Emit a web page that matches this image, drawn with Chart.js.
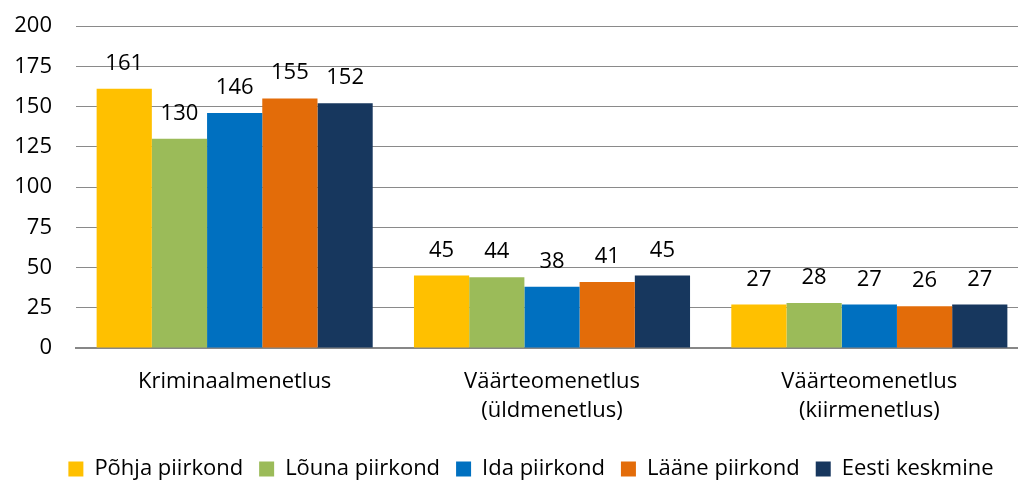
<!DOCTYPE html>
<html>
<head>
<meta charset="utf-8">
<script src="https://cdn.jsdelivr.net/npm/chart.js@4"></script>
<style>
  html, body { margin: 0; padding: 0; background: #fff; overflow: hidden; }
  #wrap { position: absolute; left: 0; top: 0; width: 1028px; height: 480px; }
</style>
</head>
<body>
<div id="wrap"><canvas id="c"></canvas></div>
<script>
const categories = [
  "Kriminaalmenetlus",
  ["Väärteomenetlus", "(üldmenetlus)"],
  ["Väärteomenetlus", "(kiirmenetlus)"]
];
const seriesNames = ["Põhja piirkond", "Lõuna piirkond", "Ida piirkond", "Lääne piirkond", "Eesti keskmine"];
const pohja = [161, 45, 27];
const louna = [130, 44, 28];
const ida = [146, 38, 27];
const laane = [155, 41, 26];
const eesti = [152, 45, 27];
const seriesColors = ["#FFC000", "#9BBB59", "#0070C0", "#E36C09", "#17375E"];
const yTicks = [0, 25, 50, 75, 100, 125, 150, 175, 200];

const seriesValues = [pohja, louna, ida, laane, eesti];
const FONT = '"Open Sans"';
const FS = 22;

const valueLabels = {
  id: 'valueLabels',
  afterDatasetsDraw(chart) {
    const ctx = chart.ctx;
    ctx.save();
    ctx.font = FS + 'px ' + FONT;
    ctx.fillStyle = '#000';
    ctx.textAlign = 'center';
    ctx.textBaseline = 'alphabetic';
    chart.data.datasets.forEach((ds, i) => {
      chart.getDatasetMeta(i).data.forEach((bar, j) => {
        ctx.fillText(String(ds.data[j]), bar.x, bar.y - 19);
      });
    });
    ctx.restore();
  }
};

const legendShift = {
  id: 'legendShift',
  afterLayout(chart) {
    if (chart.legend) {
      chart.legend.left += 17;
      chart.legend.right += 17;
    }
  }
};

Chart.defaults.font.family = FONT;
Chart.defaults.font.size = FS;
Chart.defaults.color = '#000';

new Chart(document.getElementById('c'), {
  type: 'bar',
  data: {
    labels: categories,
    datasets: seriesNames.map((name, i) => ({
      label: name,
      data: seriesValues[i],
      backgroundColor: seriesColors[i],
      borderWidth: 0,
      categoryPercentage: 0.87,
      barPercentage: 1.0
    }))
  },
  options: {
    responsive: true,
    maintainAspectRatio: false,
    animation: false,
    layout: { padding: { left: 0, right: 0, top: 26, bottom: -10 } },
    scales: {
      x: {
        grid: { display: false, drawTicks: false },
        border: { display: true, color: '#878787', width: 2 },
        ticks: { padding: 19, maxRotation: 0, autoSkip: false, font: { size: FS, lineHeight: 1.32 }, color: '#000' },
        afterFit: s => { s.height = 94; }
      },
      y: {
        min: 0,
        max: 200,
        afterBuildTicks: s => { s.ticks = yTicks.map(v => ({ value: v })); },
        grid: { color: '#8a8a8a', lineWidth: 1, drawTicks: false },
        border: { display: false },
        ticks: { padding: 24, font: { size: FS }, color: '#000' },
        afterFit: s => { s.width = 76; s.paddingTop = 0; s.paddingBottom = 0; }
      }
    },
    plugins: {
      legend: {
        position: 'bottom',
        labels: { boxWidth: 15, boxHeight: 15, padding: 16, color: '#000', font: { size: FS } }
      },
      tooltip: { enabled: false }
    }
  },
  plugins: [valueLabels, legendShift]
});
</script>
</body>
</html>
